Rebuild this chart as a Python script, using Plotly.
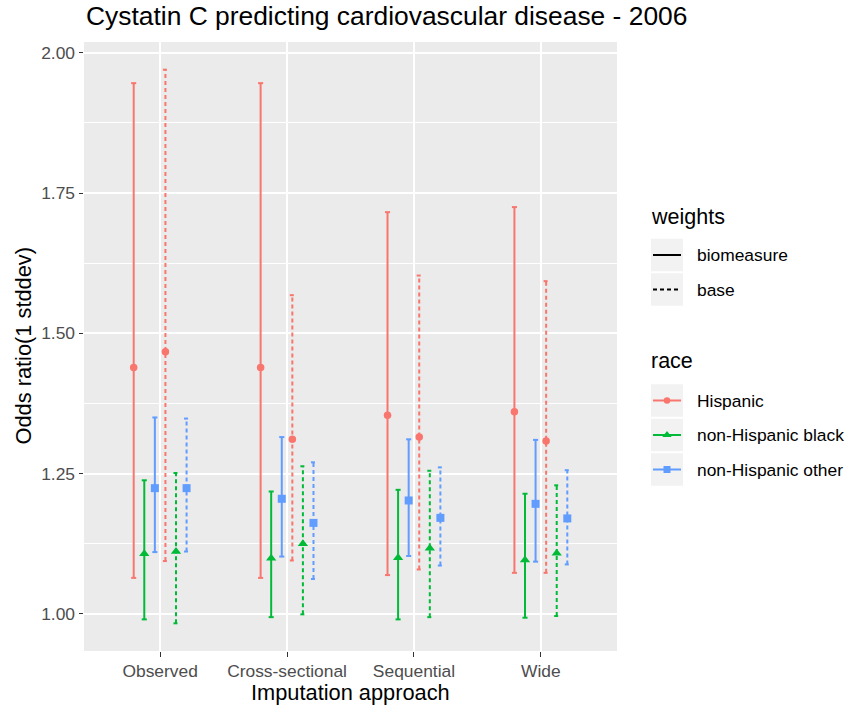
import plotly.graph_objects as go

# ---- data -------------------------------------------------------------
approaches = ["Observed", "Cross-sectional", "Sequential", "Wide"]
races = ["Hispanic", "non-Hispanic black", "non-Hispanic other"]
weights = ["biomeasure", "base"]

# Odds ratio per 1 SD of cystatin C with 95% CI, one value per approach
hisp_bio_or = [1.439, 1.439, 1.354, 1.360]
hisp_bio_lo = [1.064, 1.064, 1.069, 1.073]
hisp_bio_hi = [1.946, 1.946, 1.716, 1.725]

hisp_base_or = [1.467, 1.311, 1.315, 1.308]
hisp_base_lo = [1.094, 1.095, 1.079, 1.073]
hisp_base_hi = [1.970, 1.568, 1.603, 1.593]

black_bio_or = [1.107, 1.099, 1.100, 1.096]
black_bio_lo = [0.990, 0.994, 0.990, 0.993]
black_bio_hi = [1.238, 1.218, 1.221, 1.214]

black_base_or = [1.111, 1.125, 1.117, 1.108]
black_base_lo = [0.983, 0.999, 0.994, 0.996]
black_base_hi = [1.251, 1.263, 1.255, 1.229]

other_bio_or = [1.224, 1.205, 1.202, 1.196]
other_bio_lo = [1.110, 1.102, 1.103, 1.093]
other_bio_hi = [1.350, 1.315, 1.311, 1.310]

other_base_or = [1.224, 1.162, 1.171, 1.170]
other_base_lo = [1.111, 1.062, 1.086, 1.088]
other_base_hi = [1.348, 1.270, 1.261, 1.256]

y_ticks = [1.00, 1.25, 1.50, 1.75, 2.00]

estimates = {
    ("biomeasure", "Hispanic"): (hisp_bio_or, hisp_bio_lo, hisp_bio_hi),
    ("biomeasure", "non-Hispanic black"): (black_bio_or, black_bio_lo, black_bio_hi),
    ("biomeasure", "non-Hispanic other"): (other_bio_or, other_bio_lo, other_bio_hi),
    ("base", "Hispanic"): (hisp_base_or, hisp_base_lo, hisp_base_hi),
    ("base", "non-Hispanic black"): (black_base_or, black_base_lo, black_base_hi),
    ("base", "non-Hispanic other"): (other_base_or, other_base_lo, other_base_hi),
}

# ---- styling ----------------------------------------------------------
FONT = "Liberation Sans, Arial, sans-serif"
race_color = {"Hispanic": "#F8766D", "non-Hispanic black": "#00BA38",
              "non-Hispanic other": "#619CFF"}
race_symbol = {"Hispanic": "circle", "non-Hispanic black": "triangle-up",
               "non-Hispanic other": "square"}
race_size = {"Hispanic": 7.5, "non-Hispanic black": 9, "non-Hispanic other": 8}
weight_dash = {"biomeasure": "solid", "base": "4px,3px"}

W, H = 847, 708
L, R, T, B = 84, 617, 42, 651          # panel edges in pixels

DODGE = 0.5
CAP = 0.02
n_groups = len(weights) * len(races)

fig = go.Figure()

def xpos(i_app, w, r):
    g = weights.index(w) * len(races) + races.index(r)
    return (i_app + 1) + (g - (n_groups - 1) / 2) * DODGE / n_groups

# error bars (drawn first, points on top)
for w in weights:
    for r in races:
        ors, los, his = estimates[(w, r)]
        xs, ys = [], []
        for i in range(len(approaches)):
            x = xpos(i, w, r)
            xs += [x, x, None, x - CAP, x + CAP, None, x - CAP, x + CAP, None]
            ys += [los[i], his[i], None, his[i], his[i], None, los[i], los[i], None]
        fig.add_trace(go.Scatter(
            x=xs, y=ys, mode="lines", showlegend=False, hoverinfo="skip",
            line=dict(color=race_color[r], width=2, dash=weight_dash[w]),
            xaxis="x", yaxis="y"))

for w in weights:
    for r in races:
        ors, los, his = estimates[(w, r)]
        fig.add_trace(go.Scatter(
            x=[xpos(i, w, r) for i in range(len(approaches))], y=ors,
            mode="markers", showlegend=False,
            marker=dict(color=race_color[r], symbol=race_symbol[r],
                        size=race_size[r]),
            xaxis="x", yaxis="y"))

# y range with 5% expansion of the data span
all_vals = [v for k in estimates for arr in estimates[k] for v in arr]
lo_all, hi_all = min(all_vals), max(all_vals)
pad = 0.05 * (hi_all - lo_all)

# ---- legend, drawn in a pixel-space overlay axis ------------------------
KX0, KX1 = 651, 683
KEY_H = 32.5
weight_rows = [255, 289.5]
race_rows = [400.5, 435, 469.5]

shapes = [dict(type="rect", xref="x domain", yref="y domain", x0=0, x1=1,
               y0=0, y1=1, fillcolor="#EBEBEB", line=dict(width=0),
               layer="below")]
annotations = []

def key_box(yc):
    shapes.append(dict(type="rect", xref="x2", yref="y2", x0=KX0, x1=KX1,
                       y0=yc - KEY_H / 2, y1=yc + KEY_H / 2,
                       fillcolor="#F2F2F2", line=dict(width=0), layer="below"))

def text(x, y, s, size, color="#000000", anchor="left", angle=0):
    annotations.append(dict(x=x, y=y, xref="x2", yref="y2", text=s,
                            showarrow=False, xanchor=anchor, yanchor="middle",
                            textangle=angle,
                            font=dict(family=FONT, size=size, color=color)))

text(649, 217, "weights", 21.5)
for w, yc in zip(weights, weight_rows):
    key_box(yc)
    fig.add_trace(go.Scatter(x=[KX0 + 2, KX1 - 2], y=[yc, yc], mode="lines",
                             line=dict(color="#000000", width=2,
                                       dash=weight_dash[w]),
                             showlegend=False, hoverinfo="skip",
                             xaxis="x2", yaxis="y2"))
    text(695, yc, w, 17.4)

text(649, 361, "race", 21.5)
for r, yc in zip(races, race_rows):
    key_box(yc)
    fig.add_trace(go.Scatter(x=[KX0 + 2, (KX0 + KX1) / 2, KX1 - 2],
                             y=[yc, yc, yc], mode="lines",
                             line=dict(color=race_color[r], width=2),
                             showlegend=False, hoverinfo="skip",
                             xaxis="x2", yaxis="y2"))
    fig.add_trace(go.Scatter(x=[(KX0 + KX1) / 2], y=[yc], mode="markers",
                             marker=dict(color=race_color[r],
                                         symbol=race_symbol[r],
                                         size=race_size[r] - 1),
                             showlegend=False, hoverinfo="skip",
                             xaxis="x2", yaxis="y2"))
    text(695, yc, r, 17.4)

# titles
text(L, 16, "Cystatin C predicting cardiovascular disease - 2006", 26.4)
text((L + R) / 2, 692, "Imputation approach", 21.8, anchor="center")
text(23, (T + B) / 2, "Odds ratio(1 stddev)", 21.8, anchor="center", angle=-90)

fig.update_layout(
    width=W, height=H,
    margin=dict(l=0, r=0, t=0, b=0),
    paper_bgcolor="#FFFFFF",
    plot_bgcolor="rgba(0,0,0,0)",
    showlegend=False,
    font=dict(family=FONT),
    shapes=shapes,
    annotations=annotations,
    xaxis=dict(domain=[L / W, R / W], range=[0.4, len(approaches) + 0.6],
               tickvals=list(range(1, len(approaches) + 1)),
               ticktext=approaches, showgrid=True, gridcolor="#FFFFFF",
               gridwidth=1.5, zeroline=False, showline=False,
               ticks="outside", ticklen=4.5, tickwidth=1.2,
               tickcolor="#333333",
               tickfont=dict(family=FONT, size=17.4, color="#4D4D4D"),
               anchor="y", fixedrange=True),
    yaxis=dict(domain=[(H - B) / H, (H - T) / H],
               range=[lo_all - pad, hi_all + pad],
               tickvals=y_ticks, tickformat=".2f",
               showgrid=True, gridcolor="#FFFFFF", gridwidth=1.5,
               minor=dict(tickvals=[t + 0.125 for t in y_ticks],
                          showgrid=True, gridcolor="#FFFFFF", gridwidth=0.8,
                          ticks=""),
               zeroline=False, showline=False,
               ticks="outside", ticklen=4.5, tickwidth=1.2,
               tickcolor="#333333",
               tickfont=dict(family=FONT, size=17.4, color="#4D4D4D"),
               anchor="x", fixedrange=True),
    xaxis2=dict(domain=[0, 1], range=[0, W], visible=False, anchor="y2",
                fixedrange=True),
    yaxis2=dict(domain=[0, 1], range=[H, 0], visible=False, anchor="x2",
                fixedrange=True),
)

fig.write_html("out.html")
